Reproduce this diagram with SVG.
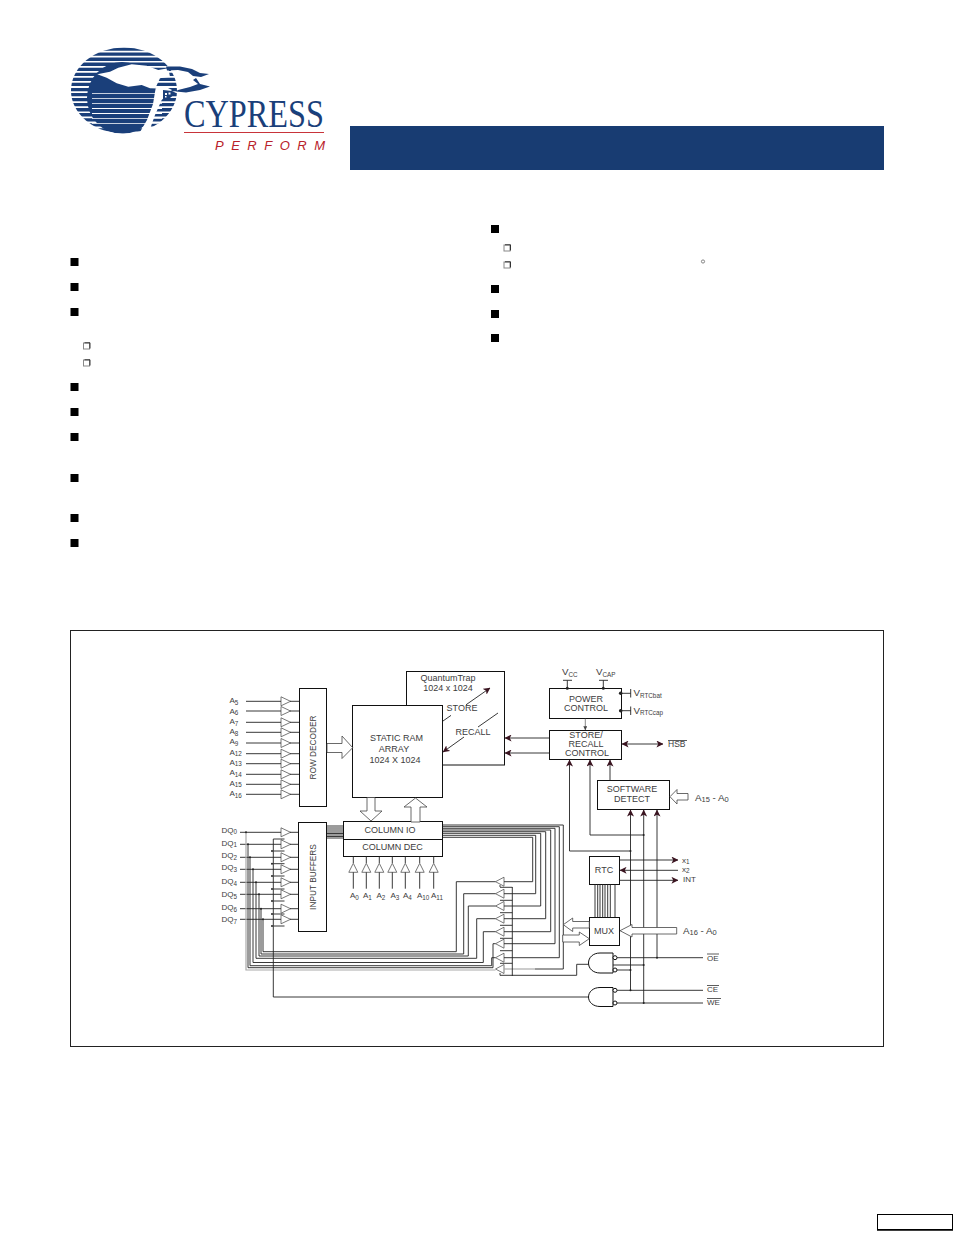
<svg xmlns="http://www.w3.org/2000/svg" width="954" height="1235" viewBox="0 0 954 1235">
<style>
text{font-family:"Liberation Sans",Arial,sans-serif;fill:#3c3c3c;font-size:9px}
.c{text-anchor:middle}
.s{font-size:8px}
.sub{font-size:6.300px}
.m{font-size:9.800px}
.b{fill:#fff;stroke:#111;stroke-width:1}
.l{fill:none;stroke:#222;stroke-width:.9}
.g{fill:none;stroke:#aaa;stroke-width:1.200}
.t{fill:#fff;stroke:#555;stroke-width:.8}
.w{fill:#fff;stroke:#444;stroke-width:.8}
.d{fill:#222}
.a{fill:none;stroke:#222;stroke-width:.9;marker-end:url(#ah)}
.a2{fill:none;stroke:#555;stroke-width:.7;marker-end:url(#ah2)}
.o{fill:none;stroke:#333;stroke-width:.8}
.n{fill:#1a3f7a}
.k{fill:#000}
.q{fill:#fff;stroke:#888;stroke-width:1}
</style>
<defs>
<marker id="ah" viewBox="0 0 8 8" refX="7.500" refY="4" markerWidth="7" markerHeight="7" markerUnits="userSpaceOnUse" orient="auto-start-reverse"><path d="M0 0L8 4L0 8L2 4Z" fill="#3a1420"/></marker>
<marker id="ah2" viewBox="0 0 8 8" refX="7.500" refY="4" markerWidth="4" markerHeight="4" markerUnits="userSpaceOnUse" orient="auto"><path d="M0 0L8 4L0 8Z" fill="#444"/></marker>
<clipPath id="logoClip"><ellipse cx="124" cy="90.500" rx="53" ry="43"/></clipPath>
<polygon id="tr" class="t" points="0,-4.500 9.500,0 0,4.500"/>
<polygon id="tl" class="t" points="0,-4.500 -8.500,0 0,4.500"/>
<polygon id="tu" class="t" points="-4.500,0 0,-9 4.500,0"/>
</defs>

<g id="logo">
<g clip-path="url(#logoClip)">
<path class="n" d="M60 47.500h130v3.300H60zM60 52.500h130v3.300H60zM60 57.600h130v3.300H60zM60 62.600h130v3.300H60zM60 67.700h130v3.300H60zM60 72.700h130v3.300H60zM60 77.800h130v3.300H60zM60 82.800h130v3.300H60zM60 87.900h130v3.300H60zM60 92.900h130v3.300H60zM60 98h130v3.300H60zM60 103h130v3.300H60zM60 108.100h130v3.300H60zM60 113.100h130v3.300H60zM60 118.200h130v3.300H60zM60 123.200h130v3.300H60zM60 128.300h130v3.300H60z"/>
<ellipse class="n" cx="122" cy="98" rx="35" ry="36"/>
<path fill="#fff" d="M92 92.900h70v.8H92zM92 98h70v.8H92zM92 103h70v.8H92zM92 108.100h70v.8H92zM92 113.100h70v.8H92zM92 118.200h70v.8H92zM92 123.200h70v.8H92z"/>
</g>
<path fill="#fff" d="M97.300 74.300L110 71.700 118.300 67.700 131.700 64.300 146.700 65.700 158.300 70 168.300 68.300 170 76.700 160 78.300 156 86.700 155 92 153 104 147 120 140 132 149 132 155 115 161.700 100 172 90 168 88 158 88 150 88.300 141.700 85 128.300 86.700 116.700 83.300 106.700 77.700Z"/>
<path class="n" d="M166 66.500L180 66.500 192 69 200 73 209 74 201 77 193 76 188 72 178 70 167 70.500Z"/>
<path class="n" d="M196 78L193 80 198 84 190 87 178 90 176 91.500 186 92.500 200 90 210 86.500 200 84Z"/>
<path class="n" d="M163 90L172 91 176 93 170 98 163 99Z"/>
<path fill="#fff" d="M165 93h2v2h-2zM168.500 92.500h2v2h-2zM165 96h1.500v1.500H165z"/>
<text x="184" y="126.500" textLength="140" lengthAdjust="spacingAndGlyphs" style="font-family:'Liberation Serif',serif;font-size:40px;fill:#1a3f7a">CYPRESS</text>
<rect x="184" y="132" width="140" height="1" fill="#c8343a"/>
<text x="215" y="150" textLength="110" style="font-size:13px;font-style:italic;fill:#b8212a">PERFORM</text>
</g>

<rect id="title-bar" x="350" y="126" width="534" height="44" fill="#183c72"/>

<g id="bullets">
<g class="k">
<rect x="70.500" y="258" width="8" height="8"/><rect x="70.500" y="283" width="8" height="8"/><rect x="70.500" y="308" width="8" height="8"/><rect x="70.500" y="383" width="8" height="8"/><rect x="70.500" y="408" width="8" height="8"/><rect x="70.500" y="433" width="8" height="8"/><rect x="70.500" y="474" width="8" height="8"/><rect x="70.500" y="514" width="8" height="8"/><rect x="70.500" y="539" width="8" height="8"/>
<rect x="491" y="225" width="8" height="8"/><rect x="491" y="285" width="8" height="8"/><rect x="491" y="310" width="8" height="8"/><rect x="491" y="334" width="8" height="8"/>
</g>
<g>
<rect class="q" x="83.500" y="343" width="6" height="6"/><path class="l" d="M84.500 342.800H90V348.500"/>
<rect class="q" x="83.500" y="360" width="6" height="6"/><path class="l" d="M84.500 359.800H90V365.500"/>
<rect class="q" x="504" y="245" width="6" height="6"/><path class="l" d="M505 244.800H510.500V250.500"/>
<rect class="q" x="504" y="262" width="6" height="6"/><path class="l" d="M505 261.800H510.500V267.500"/>
</g>
<circle cx="703" cy="261.500" r="1.600" fill="none" stroke="#555" stroke-width=".7"/>
</g>

<rect id="frame" x="70.500" y="630.500" width="813" height="416" fill="none" stroke="#222" stroke-width="1"/>

<g id="row-address-buffers">
<use href="#tr" x="281" y="701.300"/><use href="#tr" x="281" y="711"/><use href="#tr" x="281" y="722.300"/><use href="#tr" x="281" y="732.300"/><use href="#tr" x="281" y="743"/><use href="#tr" x="281" y="753.700"/><use href="#tr" x="281" y="763.700"/><use href="#tr" x="281" y="774.300"/><use href="#tr" x="281" y="784.300"/><use href="#tr" x="281" y="794.300"/>
<text class="s" x="229.500" y="703">A<tspan class="sub" dy="1.500">5</tspan></text>
<text class="s" x="229.500" y="713.500">A<tspan class="sub" dy="1.500">6</tspan></text>
<text class="s" x="229.500" y="724">A<tspan class="sub" dy="1.500">7</tspan></text>
<text class="s" x="229.500" y="734">A<tspan class="sub" dy="1.500">8</tspan></text>
<text class="s" x="229.500" y="744">A<tspan class="sub" dy="1.500">9</tspan></text>
<text class="s" x="229.500" y="754.500">A<tspan class="sub" dy="1.500">12</tspan></text>
<text class="s" x="229.500" y="764.500">A<tspan class="sub" dy="1.500">13</tspan></text>
<text class="s" x="229.500" y="775">A<tspan class="sub" dy="1.500">14</tspan></text>
<text class="s" x="229.500" y="785.500">A<tspan class="sub" dy="1.500">15</tspan></text>
<text class="s" x="229.500" y="796">A<tspan class="sub" dy="1.500">16</tspan></text>
</g>

<g id="dq-input-buffers">
<use href="#tr" x="281" y="832.300"/><use href="#tr" x="281" y="844.300"/><use href="#tr" x="281" y="857.300"/><use href="#tr" x="281" y="869.300"/><use href="#tr" x="281" y="882.300"/><use href="#tr" x="281" y="894.300"/><use href="#tr" x="281" y="908.700"/><use href="#tr" x="281" y="919.300"/>
<text class="s" x="221.500" y="832.500">DQ<tspan class="sub" dy="1.500">0</tspan></text>
<text class="s" x="221.500" y="845.500">DQ<tspan class="sub" dy="1.500">1</tspan></text>
<text class="s" x="221.500" y="858">DQ<tspan class="sub" dy="1.500">2</tspan></text>
<text class="s" x="221.500" y="870">DQ<tspan class="sub" dy="1.500">3</tspan></text>
<text class="s" x="221.500" y="884">DQ<tspan class="sub" dy="1.500">4</tspan></text>
<text class="s" x="221.500" y="897">DQ<tspan class="sub" dy="1.500">5</tspan></text>
<text class="s" x="221.500" y="910">DQ<tspan class="sub" dy="1.500">6</tspan></text>
<text class="s" x="221.500" y="922">DQ<tspan class="sub" dy="1.500">7</tspan></text>
</g>

<g id="dq-output-buffers">
<use href="#tl" x="504" y="881.700"/><use href="#tl" x="504" y="893.700"/><use href="#tl" x="504" y="906"/><use href="#tl" x="504" y="918.700"/><use href="#tl" x="504" y="931.700"/><use href="#tl" x="504" y="943.700"/><use href="#tl" x="504" y="957.700"/><use href="#tl" x="504" y="969"/>
</g>

<g id="column-address-buffers">
<use href="#tu" x="353.300" y="872.300"/><use href="#tu" x="366.300" y="872.300"/><use href="#tu" x="379.300" y="872.300"/><use href="#tu" x="392.300" y="872.300"/><use href="#tu" x="405.300" y="872.300"/><use href="#tu" x="419.700" y="872.300"/><use href="#tu" x="433.700" y="872.300"/>
<text class="s" x="350" y="898">A<tspan class="sub" dy="1.500">0</tspan></text>
<text class="s" x="363" y="898">A<tspan class="sub" dy="1.500">1</tspan></text>
<text class="s" x="376.500" y="898">A<tspan class="sub" dy="1.500">2</tspan></text>
<text class="s" x="390.500" y="898">A<tspan class="sub" dy="1.500">3</tspan></text>
<text class="s" x="403" y="898">A<tspan class="sub" dy="1.500">4</tspan></text>
<text class="s" x="417" y="898">A<tspan class="sub" dy="1.500">10</tspan></text>
<text class="s" x="431" y="898">A<tspan class="sub" dy="1.500">11</tspan></text>
</g>

<g id="quantum-trap">
<rect class="b" x="406.500" y="671.500" width="98" height="93.500"/>
<text class="c" x="448" y="681">QuantumTrap</text>
<text class="c" x="448" y="691">1024 x 1024</text>
<text class="c" x="462" y="711">STORE</text>
<text class="c" x="473" y="735">RECALL</text>
</g>

<g id="static-ram">
<rect class="b" x="352.500" y="705.500" width="90" height="92"/>
<text class="c" x="396.500" y="741">STATIC RAM</text>
<text class="c" x="394" y="752">ARRAY</text>
<text class="c" x="395" y="763">1024 X 1024</text>
</g>

<g id="row-decoder">
<rect class="b" x="299.500" y="688.500" width="27" height="118"/>
<text class="c" transform="translate(316 747.500) rotate(-90)" style="font-size:8.300px">ROW DECODER</text>
</g>

<g id="input-buffers">
<rect class="b" x="298.500" y="822.500" width="28" height="109"/>
<text class="c" transform="translate(315.500 877) rotate(-90)" style="font-size:8.300px">INPUT BUFFERS</text>
</g>

<g id="column-io">
<rect class="b" x="343.500" y="821.500" width="99" height="18"/>
<text class="c" x="390" y="833">COLUMN IO</text>
</g>
<g id="column-dec">
<rect class="b" x="343.500" y="839.500" width="99" height="17"/>
<text class="c" x="392.500" y="850">COLUMN DEC</text>
</g>

<g id="power-control">
<rect class="b" x="549.500" y="688.500" width="72" height="30"/>
<text class="c" x="586" y="702">POWER</text>
<text class="c" x="586" y="711">CONTROL</text>
<text class="m" x="562" y="675">V<tspan class="sub" dy="1.500">CC</tspan></text>
<text class="m" x="596" y="675">V<tspan class="sub" dy="1.500">CAP</tspan></text>
<text class="m" x="633.500" y="696">V<tspan class="sub" dy="1.500">RTCbat</tspan></text>
<text class="m" x="633.500" y="713.500">V<tspan class="sub" dy="1.500">RTCcap</tspan></text>
</g>

<g id="store-recall-control">
<rect class="b" x="549.500" y="730.500" width="72" height="29"/>
<text class="c" x="586" y="738">STORE/</text>
<text class="c" x="586" y="747">RECALL</text>
<text class="c" x="587" y="756">CONTROL</text>
<text x="668" y="747" style="font-size:8.500px">HSB</text>
<path class="o" d="M668 740.500H687"/>
</g>

<g id="software-detect">
<rect class="b" x="597.500" y="780.500" width="72" height="29"/>
<text class="c" x="632" y="792">SOFTWARE</text>
<text class="c" x="632" y="802">DETECT</text>
<text class="m" x="695" y="801">A<tspan style="font-size:7.500px" dy="1">15</tspan><tspan dy="-1"> - A</tspan><tspan style="font-size:7.500px" dy="1">0</tspan></text>
</g>

<g id="rtc">
<rect class="b" x="589.500" y="856.500" width="30" height="28"/>
<text class="c" x="604" y="873">RTC</text>
<text class="s" x="682" y="862.500">x<tspan class="sub" dy="1.500">1</tspan></text>
<text class="s" x="682" y="871.500">x<tspan class="sub" dy="1.500">2</tspan></text>
<text class="s" x="683" y="882">INT</text>
</g>

<g id="mux">
<rect class="b" x="589.500" y="917.500" width="30" height="28"/>
<text class="c" x="604" y="934">MUX</text>
<text class="m" x="683" y="934">A<tspan style="font-size:7.500px" dy="1">16</tspan><tspan dy="-1"> - A</tspan><tspan style="font-size:7.500px" dy="1">0</tspan></text>
</g>

<g id="gate-oe">
<path class="b" d="M613 953H600C593 953 588.500 957.500 588.500 963S593 973 600 973H613Z"/>
<circle class="b" cx="615" cy="957.700" r="2"/><circle class="b" cx="615" cy="970" r="2"/>
<text x="707" y="960.500" style="font-size:8px">OE</text><path class="o" d="M707 954H719"/>
</g>
<g id="gate-ce-we">
<path class="b" d="M613 987.500H600C593 987.500 588.500 992 588.500 997S593 1006.500 600 1006.500H613Z"/>
<circle class="b" cx="615" cy="990.300" r="2"/><circle class="b" cx="615" cy="1003" r="2"/>
<text x="707" y="992" style="font-size:8px">CE</text><path class="o" d="M707 985.500H719"/>
<text x="707" y="1005" style="font-size:8px">WE</text><path class="o" d="M707 998.500H721"/>
</g>

<g id="connectors">
<path class="l" d="M246 701.300H281M290 701.300H299M246 711H281M290 711H299M246 722.300H281M290 722.300H299M246 732.300H281M290 732.300H299M246 743H281M290 743H299M246 753.700H281M290 753.700H299M246 763.700H281M290 763.700H299M246 774.300H281M290 774.300H299M246 784.300H281M290 784.300H299M246 794.300H281M290 794.300H299"/>
<path class="l" d="M240 832.300H281M290 832.300H298M240 844.300H281M290 844.300H298M240 857.300H281M290 857.300H298M240 869.300H281M290 869.300H298M240 882.300H281M290 882.300H298M240 894.300H281M290 894.300H298M240 908.700H281M290 908.700H298M240 919.300H281M290 919.300H298"/>
<path class="l" d="M327 826H343M327 828H343M327 830H343M327 832H343M327 833.500H343M327 835H343M327 836.500H343M327 838H343"/>
<path class="g" d="M246 832.300V970H495.500"/>
<path class="g" d="M504 969H535"/>
<path class="l" d="M248 844.300V967.700H493V943.700H495.500M250 857.300V965.700H491.700V957.700H495.500M253 869.300V962.500H483.300V931.700H495.500M256 882.300V958.300H476.700V918.700H495.500M259 894.300V956H468.300V906H495.500M261 908.700V954H463.700V893.700H495.500M263 919.300V951.700H456.300V881.700H495.500"/>
<path class="l" d="M442.700 825H563.300V969H535M442.700 826.700H559.300V957.700H504M442.700 828.300H555V943.700H504M442.700 830H550.700V931.700H504M442.700 831.700H545.700V918.700H504M442.700 833.300H540.700V906H504M442.700 835.300H535.700V893.700H504M442.700 837.300H532.700V881.700H504"/>
<path class="l" d="M273.300 839V997H588"/>
<path class="l" d="M273.300 839H284.500M273.300 851H284.500M273.300 863.700H284.500M273.300 876H284.500M273.300 889H284.500M273.300 901H284.500M273.300 914H284.500M273.300 926H284.500"/>
<path class="l" d="M512.300 887V976M500 887.300H512.300M500 900.300H512.300M500 912.700H512.300M500 925.300H512.300M500 938.300H512.300M500 950.700H512.300M500 963.300H512.300M500 885V887M500 973V975.300H576.700V964.300H588.500"/>
<path class="l" d="M353.300 856.300V863M366.300 856.300V863M379.300 856.300V863M392.300 856.300V863M405.300 856.300V863M419.700 856.300V863M433.700 856.300V863M353.300 872.300V888.700M366.300 872.300V888.700M379.300 872.300V888.700M392.300 872.300V888.700M405.300 872.300V888.700M419.700 872.300V888.700M433.700 872.300V888.700"/>
<path class="l" d="M443 721L451 715.400M498 713L478 727"/>
<path class="a" d="M466 704.800L490 688"/>
<path class="a" d="M464 737L443 752"/>
<path class="a" d="M549.300 738H505"/>
<path class="a" d="M549.300 753H505"/>
<path class="l" d="M563 680.300H572M567.300 680.300V688.300M599 680.300H608M603.300 680.300V688.300M621 693.300H630.700M630.700 689V697.500M621 710.700H630.700M630.700 706.500V715"/>
<path class="a2" d="M585.300 718.500V730"/>
<path class="a" style="marker-start:url(#ah)" d="M622 744H663"/>
<path class="a" d="M569.500 851V760"/>
<path class="a" d="M590 835V760"/>
<path class="a" d="M610 780.300V760"/>
<path class="l" d="M569.500 851H630.500M590 835H643.700"/>
<path class="a" d="M630.500 990.300V810"/>
<path class="a" d="M643.700 1003V810"/>
<path class="a" d="M657 957.700V810"/>
<path class="l" d="M595 884.300V917.300M597.700 884.300V917.300M600 884.300V917.300M602.700 884.300V917.300M605 884.300V917.300M607.700 884.300V917.300M610.300 884.300V917.300M615 884.300V917.300"/>
<path class="a" d="M619.700 860H678"/>
<path class="a" d="M678 870.300H620"/>
<path class="a" d="M619.700 880.300H678"/>
<path class="l" d="M617 957.700H703M617 970H630.500M613 965H643.700M617 990.300H703M617 1003H703"/>
<g class="d">
<circle cx="567.300" cy="688.300" r="1.500"/><circle cx="603.300" cy="688.300" r="1.500"/><circle cx="620.700" cy="693.300" r="1.800"/><circle cx="620.700" cy="710.700" r="1.800"/>
<circle cx="630.500" cy="851" r="1"/><circle cx="643.700" cy="835" r="1"/><circle cx="657" cy="957.700" r="1"/><circle cx="643.700" cy="965" r="1"/><circle cx="630.500" cy="970" r="1"/><circle cx="630.500" cy="990.300" r="1"/><circle cx="643.700" cy="1003" r="1"/>
<circle cx="246" cy="832.300" r="1"/><circle cx="248" cy="844.300" r="1"/><circle cx="250" cy="857.300" r="1"/><circle cx="253" cy="869.300" r="1"/><circle cx="256" cy="882.300" r="1"/><circle cx="259" cy="894.300" r="1"/><circle cx="261" cy="908.700" r="1"/><circle cx="263" cy="919.300" r="1"/>
<circle cx="272" cy="851" r="1"/><circle cx="272" cy="863.700" r="1"/><circle cx="272" cy="876" r="1"/><circle cx="272" cy="889" r="1"/><circle cx="272" cy="901" r="1"/><circle cx="272" cy="914" r="1"/><circle cx="272" cy="926" r="1"/>
</g>
</g>

<g id="wide-arrows">
<polygon class="w" points="327,743.500 342,743.500 342,736 352.700,747.700 342,758.500 342,752.500 327,752.500"/>
<polygon class="w" points="367,797.500 375,797.500 375,811 382,811 371,821 360,811 367,811"/>
<polygon class="w" points="411,822 420,822 420,807 427,807 415.500,798 404,807 411,807"/>
<polygon class="w" points="688,793.500 677,793.500 677,789.500 670,796.700 677,804 677,800 688,800"/>
<polygon class="w" points="676.700,927.500 632,927.500 632,924.500 620,930.700 632,937 632,934 676.700,934"/>
<polygon class="w" points="589.300,921.500 572.700,921.500 572.700,918 563.300,924.700 572.700,931.500 572.700,928 589.300,928"/>
<polygon class="w" points="562.700,935 579.300,935 579.300,932 589.300,938.700 579.300,945.500 579.300,942 562.700,942"/>
</g>

<g id="page-box">
<rect x="877.500" y="1214.500" width="75" height="15.500" fill="#fff" stroke="#000" stroke-width="1"/>
<rect x="877" y="1229" width="76" height="1.500" fill="#000"/>
</g>
</svg>
